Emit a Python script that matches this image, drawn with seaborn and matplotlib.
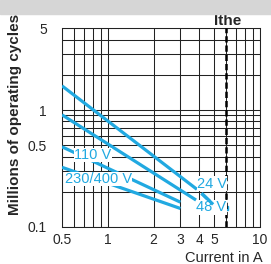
import pandas as pd
import matplotlib.pyplot as plt
import seaborn as sns
from matplotlib.patches import Rectangle

# curves (current in A, millions of cycles)
current_24v = [0.5, 3.85]
cycles_24v = [1.61, 0.21]
current_24v_tail = [4.13, 4.92]
cycles_24v_tail = [0.194, 0.156]
current_48v = [0.5, 3.8]
cycles_48v = [0.91, 0.17]
current_48v_end = [6.0]
cycles_48v_end = [0.145]
current_110v = [0.5, 3.0]
cycles_110v = [0.485, 0.163]
current_230v = [0.5, 3.0]
cycles_230v = [0.324, 0.144]
ithe = 6

x_ticks = [0.5, 1, 2, 3, 4, 5, 10]
x_grid = [0.5, 0.6, 0.7, 0.8, 0.9, 1, 2, 3, 4, 5, 6, 7, 8, 9, 10]
y_ticks = [0.1, 0.5, 1, 5]
y_grid = [0.1, 0.2, 0.3, 0.4, 0.5, 0.6, 0.7, 0.8, 0.9, 1, 2, 3, 4, 5]

blue = '#21a9e1'

sns.set_style('white')
plt.rcParams['font.family'] = ['Liberation Sans', 'DejaVu Sans']

df = pd.concat([
    pd.DataFrame({'current': current_24v, 'cycles': cycles_24v, 'seg': '24'}),
    pd.DataFrame({'current': current_24v_tail, 'cycles': cycles_24v_tail, 'seg': '24t'}),
    pd.DataFrame({'current': current_48v, 'cycles': cycles_48v, 'seg': '48'}),
    pd.DataFrame({'current': current_110v, 'cycles': cycles_110v, 'seg': '110'}),
    pd.DataFrame({'current': current_230v, 'cycles': cycles_230v, 'seg': '230'}),
])

fig = plt.figure(figsize=(2.71, 2.64), dpi=100)
fig.patches.append(Rectangle((0, 1 - 14 / 264), 1, 14 / 264, transform=fig.transFigure,
                             color='#d6d6d6', zorder=0))
ax = fig.add_axes([62 / 271, 1 - 227 / 264, 198 / 271, 198.7 / 264])

ax.set_xscale('log')
ax.set_yscale('log')
ax.set_xlim(0.5, 10)
ax.set_ylim(0.1, 5)

for v in x_grid:
    ax.axvline(v, color='#222222', lw=0.75, zorder=1)
for v in y_grid:
    ax.axhline(v, color='#222222', lw=0.75, zorder=1)

sns.lineplot(data=df, x='current', y='cycles', units='seg', estimator=None,
             color=blue, lw=2.3, ax=ax, zorder=3, solid_capstyle='butt')
ax.plot(current_48v_end, cycles_48v_end, 's', color=blue, ms=2.5, zorder=3)

ax.axvline(ithe, color='black', lw=1.8, ls=(0, (2.5, 1.2)), zorder=4)
ax.text(ithe * 1.02, 5.05, 'Ithe', ha='center', va='bottom', fontsize=11, fontweight='bold')

lab = dict(color=blue, fontsize=10.5, ha='center', va='center', zorder=5,
           bbox=dict(facecolor='white', edgecolor='none', pad=0.1))
ax.text(0.8, 0.41, '110 V', **lab)
ax.text(0.87, 0.257, '230/400 V', **lab)
ax.text(4.85, 0.235, '24 V', **lab)
ax.text(4.8, 0.147, '48 V', **lab)
sns.lineplot(x=current_24v_tail, y=cycles_24v_tail, color=blue, lw=2.3, ax=ax,
             zorder=6, solid_capstyle='butt')

ax.xaxis.set_minor_locator(plt.NullLocator())
ax.yaxis.set_minor_locator(plt.NullLocator())
ax.set_xticks(x_ticks, [str(t) for t in x_ticks])
ax.set_yticks(y_ticks, [str(t) for t in y_ticks])
ax.tick_params(length=0, labelsize=10, pad=4)
ax.tick_params(axis='y', pad=11)
for s in ax.spines.values():
    s.set_color('#222222')
    s.set_linewidth(0.75)

ax.set_xlabel('')
ax.set_ylabel('')
fig.text(263 / 271, 1 - 258 / 264, 'Current in A', ha='right', va='center', fontsize=10.5)
fig.text(15 / 271, 1 - 114 / 264, 'Millions of operating cycles', rotation=90,
         ha='center', va='center', fontsize=11, fontweight='bold')

fig.savefig('out.png', dpi=100)
